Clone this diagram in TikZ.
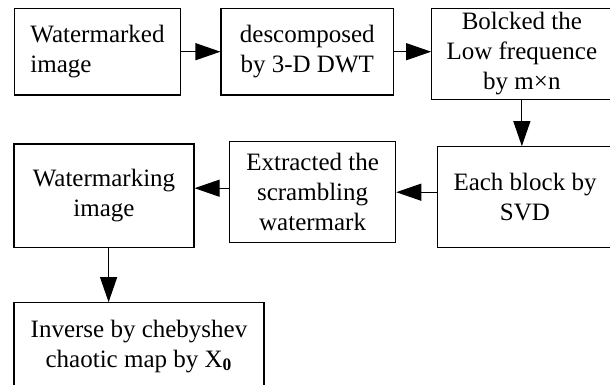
\documentclass[tikz,border=0pt]{standalone}
\usepackage{fontspec}
\setmainfont{Liberation Serif}
\usetikzlibrary{arrows.meta}

\begin{document}
\begin{tikzpicture}[x=0.5pt,y=-0.5pt,
        blk/.style={draw,line width=0.55pt,inner sep=0pt,align=center,
            font=\fontsize{12.5}{15}\selectfont},
        arr/.style={line width=0.55pt,-{Triangle[length=12.5pt,width=8.5pt]}}]
        \useasboundingbox (0,0) rectangle (610,385);
        \clip (0,0) rectangle (610,385);

        % Row 1
        \node[blk,align=left,minimum width=83.2pt,minimum height=43.35pt] (wmk) at (97.5,51.7) {Watermarked\\image};
        \node[blk,minimum width=86.25pt,minimum height=43.35pt] (dwt) at (307.25,51.7) {descomposed\\by 3-D DWT};
        \node[blk,minimum width=90.15pt,minimum height=45.5pt] (lowf) at (521.85,53.8) {Bolcked the\\Low frequence\\by m×n};

        % Row 2
        \node[blk,minimum width=87.7pt,minimum height=50.3pt] (svd) at (525,197) {Each block by\\SVD};
        \node[blk,minimum width=83.1pt,minimum height=50.5pt] (extr) at (312.6,192.2) {Extracted the\\scrambling\\watermark};
        \node[blk,minimum width=90pt,minimum height=51.65pt] (wmg) at (104,195.65) {Watermarking\\image};

        % Row 3
        \node[blk,minimum width=125pt,minimum height=43.65pt] (inv) at (139,346.35) {Inverse by chebyshev\\chaotic map by X\textsubscript{\textbf{0}}};

        % Arrows
        \draw[arr] (wmk.east) -- (dwt.west);
        \draw[arr] (dwt.east) -- (dwt.east -| lowf.west);
        \draw[arr] (lowf.south) -- (lowf.south |- svd.north);
        \draw[arr] (svd.west |- extr.east) -- (extr.east);
        \draw[arr] ([yshift=2pt]extr.west) -- ([yshift=2pt]extr.west -| wmg.east);
        \draw[arr] ([xshift=2.3pt]wmg.south) -- ([xshift=2.3pt]wmg.south |- inv.north);
    \end{tikzpicture}
\end{document}
